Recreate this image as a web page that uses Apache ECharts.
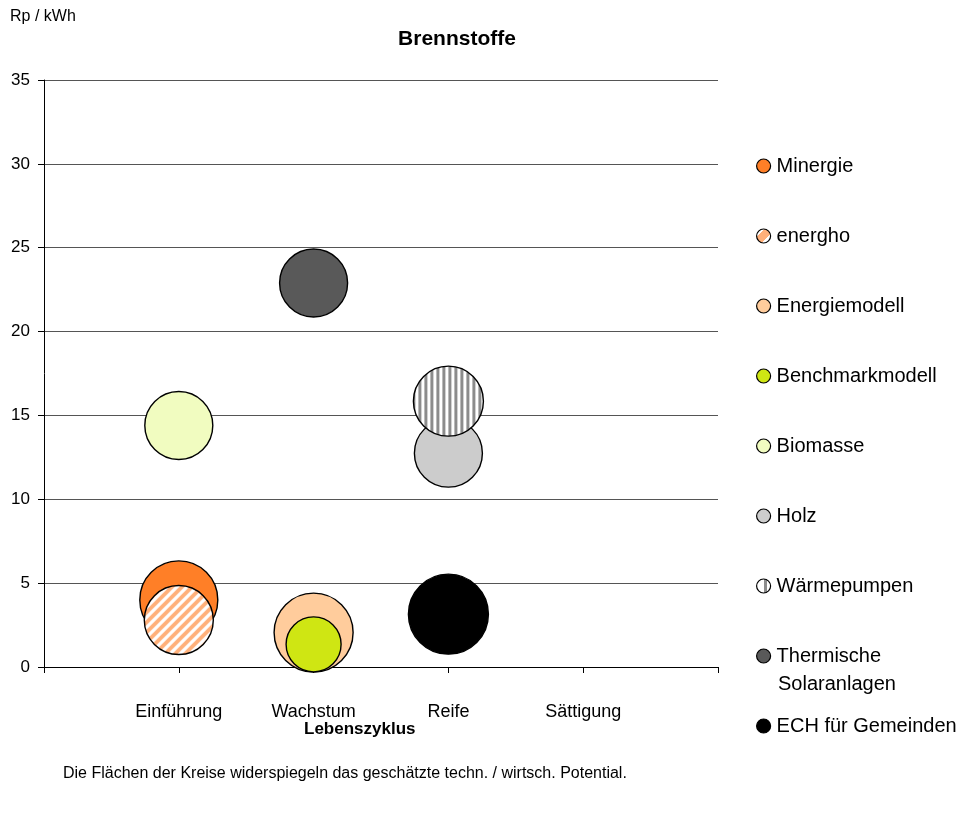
<!DOCTYPE html>
<html>
<head>
<meta charset="utf-8">
<script src="https://cdn.jsdelivr.net/npm/echarts@6/dist/echarts.min.js"></script>
<style>
html,body{margin:0;padding:0;background:#fff;}
#chart{width:975px;height:814px;}
</style>
</head>
<body>
<div id="chart"></div>
<script>
// ---- data ----
const stages = ['Einführung', 'Wachstum', 'Reife', 'Sättigung'];
const seriesNames = ['Minergie', 'energho', 'Energiemodell', 'Benchmarkmodell', 'Biomasse', 'Holz', 'Wärmepumpen', 'Thermische Solaranlagen', 'ECH für Gemeinden'];
const stageIndex = [1, 1, 2, 2, 1, 3, 3, 2, 3];
const priceRpKWh = [4.0, 2.8, 2.05, 1.35, 14.4, 12.75, 15.85, 22.9, 3.15];
const bubbleSize = [78, 69, 79, 55, 68, 68, 70, 68, 80];
const yTicks = [0, 5, 10, 15, 20, 25, 30, 35];

// ---- patterns (compensate for the symbol's unit-size scaling) ----
function diagPattern(fg, size) {
  const s = 10, c = document.createElement('canvas');
  c.width = s; c.height = s;
  const g = c.getContext('2d');
  g.fillStyle = '#fff'; g.fillRect(0, 0, s, s);
  g.strokeStyle = fg; g.lineWidth = 3.8;
  g.beginPath();
  g.moveTo(-s, s); g.lineTo(s, -s);
  g.moveTo(0, 2 * s); g.lineTo(2 * s, 0);
  g.moveTo(-s, 2 * s); g.lineTo(2 * s, -s);
  g.stroke();
  return { image: c, repeat: 'repeat', scaleX: 2 / size, scaleY: 2 / size };
}
function vertPattern(fg, size) {
  const c = document.createElement('canvas');
  c.width = 6; c.height = 6;
  const g = c.getContext('2d');
  g.fillStyle = '#fff'; g.fillRect(0, 0, 6, 6);
  g.fillStyle = fg; g.fillRect(0, 0, 3, 6);
  return { image: c, repeat: 'repeat', scaleX: 2 / size, scaleY: 2 / size };
}

const fills = [
  '#FF7F27',
  diagPattern('#FFB07A', bubbleSize[1]),
  '#FFCC9C',
  '#CFE613',
  '#F1FCC0',
  '#CCCCCC',
  vertPattern('#8C8C8C', bubbleSize[6]),
  '#595959',
  '#000000'
];
const legendFills = fills.slice();
legendFills[1] = { type: 'linear', x: 0, y: 0, x2: 1, y2: 1, colorStops: [
  { offset: 0, color: '#fff' }, { offset: 0.3, color: '#fff' }, { offset: 0.3, color: '#FFB07A' },
  { offset: 0.65, color: '#FFB07A' }, { offset: 0.65, color: '#fff' }, { offset: 1, color: '#fff' }] };
legendFills[6] = { type: 'linear', x: 0, y: 0, x2: 1, y2: 0, colorStops: [
  { offset: 0, color: '#fff' }, { offset: 0.5, color: '#fff' }, { offset: 0.5, color: '#8C8C8C' },
  { offset: 0.75, color: '#8C8C8C' }, { offset: 0.75, color: '#fff' }, { offset: 1, color: '#fff' }] };

const series = seriesNames.map((name, i) => ({
  name: name,
  type: 'scatter',
  data: [[stageIndex[i], priceRpKWh[i], bubbleSize[i]]],
  symbol: 'circle',
  symbolSize: v => v[2],
  itemStyle: { color: fills[i], borderColor: '#000', borderWidth: 1.4, opacity: 1 },
  emphasis: { disabled: true },
  z: 2 + i
}));

const legends = seriesNames.map((name, i) => ({
  data: [{ name: name, itemStyle: { color: legendFills[i], borderColor: '#000', borderWidth: 1.2 } }],
  orient: 'vertical',
  left: 756,
  top: 156 + i * 70,
  padding: 0,
  itemWidth: 16,
  itemHeight: 14,
  selectedMode: false,
  formatter: name === 'Thermische Solaranlagen' ? 'Thermische' : '{name}',
  textStyle: { fontFamily: 'Liberation Sans', fontSize: 20, color: '#000' }
}));

const chart = echarts.init(document.getElementById('chart'), null, { renderer: 'canvas' });
chart.setOption({
  backgroundColor: '#fff',
  animation: false,
  title: {
    text: 'Brennstoffe',
    left: 452,
    top: 24,
    textAlign: 'center',
    textStyle: { fontFamily: 'Liberation Sans', fontSize: 21, fontWeight: 'bold', color: '#000' }
  },
  legend: legends,
  grid: { left: 44, right: 257, top: 80, bottom: 147, containLabel: false },
  xAxis: {
    type: 'value',
    min: 0, max: 5, interval: 1,
    axisLine: { show: true, lineStyle: { color: '#000', width: 1 } },
    axisTick: { show: true, length: 6, lineStyle: { color: '#000' } },
    splitLine: { show: false },
    axisLabel: {
      margin: 36,
      fontFamily: 'Liberation Sans', fontSize: 18, color: '#000',
      formatter: v => (v >= 1 && v <= stages.length) ? stages[v - 1] : ''
    }
  },
  yAxis: {
    type: 'value',
    min: yTicks[0], max: yTicks[yTicks.length - 1], interval: 5,
    axisLine: { show: true, lineStyle: { color: '#000', width: 1 } },
    axisTick: { show: true, length: 6, lineStyle: { color: '#000' } },
    splitLine: { show: true, lineStyle: { color: '#555', width: 1 } },
    axisLabel: { margin: 14, fontFamily: 'Liberation Sans', fontSize: 17, color: '#000' }
  },
  graphic: [
    { type: 'text', left: 10, top: 9, style: { text: 'Rp / kWh', font: '16px "Liberation Sans"', fill: '#000' } },
    { type: 'text', left: 778, top: 674, style: { text: 'Solaranlagen', font: '20px "Liberation Sans"', fill: '#000' } },
    { type: 'text', left: 304, top: 721, style: { text: 'Lebenszyklus', font: 'bold 17px "Liberation Sans"', fill: '#000' } },
    { type: 'text', left: 63, top: 766, style: { text: 'Die Flächen der Kreise widerspiegeln das geschätzte techn. / wirtsch. Potential.', font: '16px "Liberation Sans"', fill: '#000' } }
  ],
  series: series
});
</script>
</body>
</html>
